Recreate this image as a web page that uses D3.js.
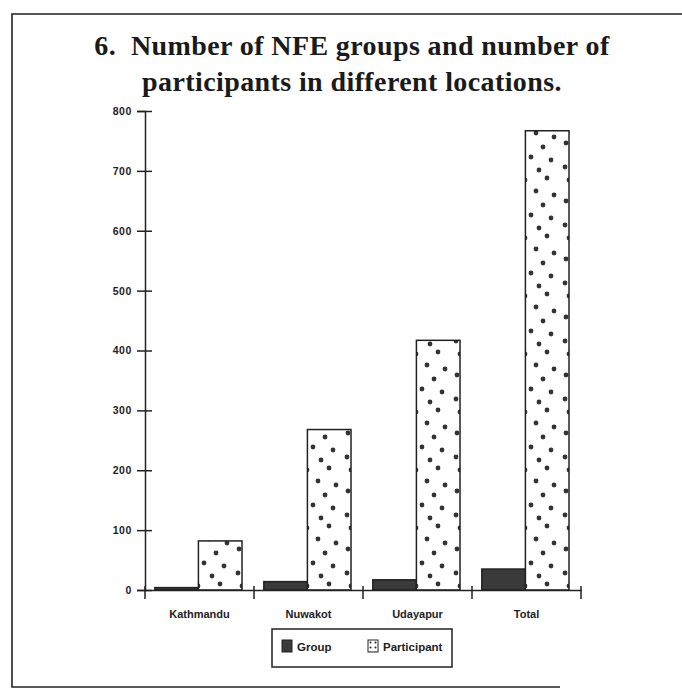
<!DOCTYPE html>
<html>
<head>
<meta charset="utf-8">
<script src="https://cdn.jsdelivr.net/npm/d3@7"></script>
<style>
  html, body { margin: 0; padding: 0; background: #fff; }
  svg { display: block; }
</style>
</head>
<body>
<svg id="chart" width="682" height="693"></svg>
<script>
// Locations and series
const categories = ["Kathmandu", "Nuwakot", "Udayapur", "Total"];
const seriesNames = ["Group", "Participant"];
const groupValues = [4, 14, 17, 35];
const participantValues = [82, 268, 417, 767];
const yTicks = [0, 100, 200, 300, 400, 500, 600, 700, 800];
const titleLines = ["6.  Number of NFE groups and number of", "participants in different locations."];

const svg = d3.select("#chart");
const ink = "#222";

// Page frame
svg.append("path")
  .attr("d", "M682,14 L12,14 L12,687 L560,687")
  .attr("fill", "none").attr("stroke", ink).attr("stroke-width", 1.6);

// Title
svg.append("g").selectAll("text").data(titleLines).join("text")
  .attr("x", 352).attr("y", (d, i) => 55 + i * 36)
  .attr("text-anchor", "middle")
  .attr("font-family", "'Liberation Serif', 'DejaVu Serif', serif")
  .attr("font-weight", "bold").attr("font-size", 28)
  .attr("letter-spacing", 0.4)
  .attr("xml:space", "preserve")
  .style("white-space", "pre")
  .attr("fill", "#1a1a1a")
  .text(d => d);

// Dot fill for participant bars
const defs = svg.append("defs");
const pat = defs.append("pattern").attr("id", "dots")
  .attr("patternUnits", "userSpaceOnUse")
  .attr("width", 44).attr("height", 58);
pat.append("rect").attr("width", 44).attr("height", 58).attr("fill", "#fff");
const dotPos = [[9,6],[31,4],[20,17],[38,21],[6,27],[27,31],[15,41],[35,44],[5,51],[23,54]];
pat.selectAll("circle").data(dotPos).join("circle")
  .attr("cx", d => d[0]).attr("cy", d => d[1]).attr("r", 2.4).attr("fill", "#333");

const legendPat = defs.append("pattern").attr("id", "dotsSmall")
  .attr("patternUnits", "userSpaceOnUse")
  .attr("width", 5).attr("height", 5);
legendPat.append("rect").attr("width", 5).attr("height", 5).attr("fill", "#fff");
legendPat.append("circle").attr("cx", 2.5).attr("cy", 2.5).attr("r", 1).attr("fill", "#222");

// Scales
const x = d3.scaleBand().domain(categories).range([145, 581]).padding(0);
const xs = d3.scaleBand().domain(seriesNames).range([0, x.bandwidth()])
  .paddingInner(0).paddingOuter(0.25).align(0.45);
const y = d3.scaleLinear().domain([0, 800]).range([590, 111]);

// Y axis with crossing ticks
const yAxis = svg.append("g").attr("transform", `translate(${x.range()[0]},0)`)
  .call(d3.axisLeft(y).tickValues(yTicks).tickSize(8).tickPadding(5).tickFormat(d3.format("d")));
yAxis.select(".domain").attr("stroke", ink).attr("stroke-width", 1.5);
yAxis.selectAll(".tick line").attr("x1", 7).attr("stroke", ink).attr("stroke-width", 1.5);
yAxis.selectAll(".tick text")
  .attr("font-family", "'Liberation Sans', Arial, sans-serif")
  .attr("font-weight", "bold").attr("font-size", 10.5)
  .attr("letter-spacing", 0.6).attr("fill", ink);

// Bars
const data = categories.map((c, i) => ({ cat: c, Group: groupValues[i], Participant: participantValues[i] }));
const barG = svg.append("g");
const cat = barG.selectAll("g").data(data).join("g")
  .attr("transform", d => `translate(${x(d.cat)},0)`);
cat.selectAll("rect").data(d => seriesNames.map(s => ({ s, v: d[s] }))).join("rect")
  .attr("x", d => xs(d.s)).attr("width", xs.bandwidth())
  .attr("y", d => y(d.v)).attr("height", d => y(0) - y(d.v))
  .attr("fill", d => d.s === "Group" ? "#3a3a3a" : "url(#dots)")
  .attr("stroke", ink).attr("stroke-width", 1.5);

// X axis: baseline, boundary ticks and labels
const xAxis = svg.append("g").attr("transform", `translate(0,${y(0)})`)
  .call(d3.axisBottom(x).tickSize(0).tickPadding(20));
xAxis.select(".domain").attr("stroke", ink).attr("stroke-width", 1.5);
xAxis.selectAll(".tick text")
  .attr("font-family", "'Liberation Sans', Arial, sans-serif")
  .attr("font-weight", "bold").attr("font-size", 11).attr("fill", ink);
const bounds = categories.map(c => x(c)).concat([x.range()[1]]);
xAxis.selectAll("line.bound").data(bounds).join("line").attr("class", "bound")
  .attr("x1", d => d).attr("x2", d => d).attr("y1", -4).attr("y2", 9)
  .attr("stroke", ink).attr("stroke-width", 1.5);

// Legend
const lg = svg.append("g");
lg.append("rect").attr("x", 272).attr("y", 629).attr("width", 180).attr("height", 38)
  .attr("fill", "none").attr("stroke", ink).attr("stroke-width", 1.5);
const items = lg.selectAll("g").data(seriesNames).join("g")
  .attr("transform", (d, i) => `translate(${[282, 368][i]},640)`);
items.append("rect").attr("width", 10).attr("height", 12)
  .attr("fill", d => d === "Group" ? "#3a3a3a" : "url(#dotsSmall)")
  .attr("stroke", ink).attr("stroke-width", 1);
items.append("text").attr("x", 15).attr("y", 10.5)
  .attr("font-family", "'Liberation Sans', Arial, sans-serif")
  .attr("font-weight", "bold").attr("font-size", 11.5).attr("fill", ink)
  .text(d => d);
</script>
</body>
</html>
